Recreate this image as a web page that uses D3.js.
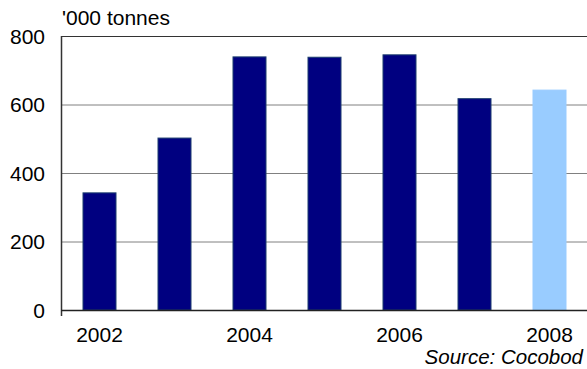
<!DOCTYPE html>
<html><head><meta charset="utf-8">
<script src="https://cdn.jsdelivr.net/npm/d3@7"></script>
<style>body{margin:0;background:#fff}svg{display:block}text{font-family:"Liberation Sans",Arial,sans-serif}</style>
</head><body>
<svg id="c" width="587" height="369"></svg>
<script>
const years = ["2002","2003","2004","2005","2006","2007","2008"];
const values = [342, 502, 739, 738, 745, 617, 642];
const forecast = [false,false,false,false,false,false,true];
const yTicks = [0,200,400,600,800];
const xLabels = ["2002","2004","2006","2008"];

const svg = d3.select("#c");
const L=62, R=587, T=36, B=310;
const FS = 21;
const x = d3.scaleBand().domain(years).range([L,R]).paddingInner(0.56).paddingOuter(0.28);
const y = d3.scaleLinear().domain([0,800]).range([B,T]);

// gridlines
svg.append("g").selectAll("line").data(yTicks.filter(d=>d>0&&d<800)).join("line")
  .attr("x1",L).attr("x2",R).attr("y1",d=>y(d)+0.5).attr("y2",d=>y(d)+0.5)
  .attr("stroke","#808080").attr("stroke-width",1);
// top border
svg.append("line").attr("x1",L).attr("x2",R).attr("y1",y(800)+0.5).attr("y2",y(800)+0.5)
  .attr("stroke","#333").attr("stroke-width",1);

// bars
svg.append("g").selectAll("rect").data(years).join("rect")
  .attr("x",d=>x(d)).attr("width",x.bandwidth())
  .attr("y",(d,i)=>y(values[i])).attr("height",(d,i)=>B-y(values[i]))
  .attr("fill",(d,i)=>forecast[i]?"#99ccff":"#000080")
  .attr("stroke",(d,i)=>forecast[i]?"#99ccff":"#1c3d6e").attr("stroke-width",1);

// axes lines
svg.append("line").attr("x1",L-0.5).attr("x2",L-0.5).attr("y1",T).attr("y2",B+6).attr("stroke","#333").attr("stroke-width",1.5);
svg.append("line").attr("x1",L-1).attr("x2",R).attr("y1",B+0.5).attr("y2",B+0.5).attr("stroke","#222").attr("stroke-width",1.5);

// y tick labels
svg.append("g").selectAll("text").data(yTicks).join("text")
  .attr("x",45).attr("y",d=>y(d)+7.5).attr("text-anchor","end")
  .attr("font-size",FS).attr("fill","#000").text(d=>d);

// x labels
svg.append("g").selectAll("text").data(xLabels).join("text")
  .attr("x",d=>x(d)+x.bandwidth()/2).attr("y",342).attr("text-anchor","middle")
  .attr("font-size",FS).attr("fill","#000").text(d=>d);

svg.append("text").attr("x",62).attr("y",25).attr("font-size",FS).text("'000 tonnes");
svg.append("text").attr("x",583).attr("y",364).attr("text-anchor","end")
  .attr("font-size",20.5).attr("font-style","italic").text("Source: Cocobod");
</script>
</body></html>
